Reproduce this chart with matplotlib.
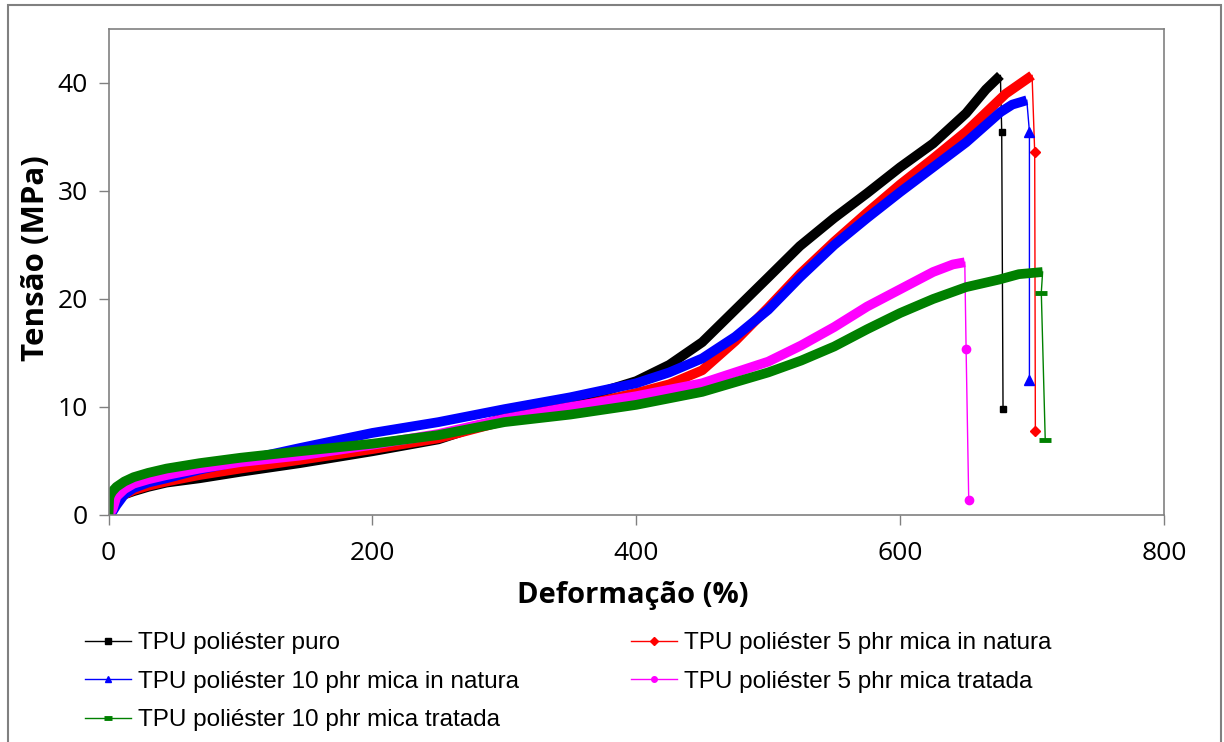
import matplotlib.pyplot as plt
from matplotlib.lines import Line2D
from matplotlib.patches import Rectangle

# Curvas tensão x deformação (os dois últimos pontos de cada série são a ruptura)
puro_x = [0, 3, 6, 12, 19, 30, 44, 69, 100, 145, 200, 250, 300, 350, 400, 425, 450,
          475, 500, 524, 550, 575, 600, 625, 650, 665, 676, 677, 678]
puro_y = [0, 0.8, 1.4, 1.9, 2.2, 2.6, 3.0, 3.4, 4.0, 4.8, 5.9, 7.0, 9.0, 10.5, 12.4,
          13.9, 16.0, 19.0, 22.0, 24.9, 27.5, 29.8, 32.2, 34.4, 37.2, 39.4, 40.7, 35.5, 9.8]

m5n_x = [0, 3, 6, 12, 19, 30, 44, 69, 100, 145, 200, 250, 300, 350, 400, 425, 450,
         475, 500, 524, 550, 575, 600, 625, 650, 680, 700, 702, 702.5]
m5n_y = [0, 0.7, 1.3, 1.9, 2.3, 2.7, 3.1, 3.7, 4.3, 5.1, 6.1, 7.1, 8.7, 9.9, 11.3,
         12.1, 13.4, 16.1, 19.2, 22.3, 25.3, 28.0, 30.6, 33.0, 35.5, 39.0, 40.7, 33.6, 7.8]

m10n_x = [0, 3, 6, 12, 19, 30, 44, 69, 100, 145, 200, 250, 300, 350, 400, 425, 450,
          475, 500, 524, 550, 575, 600, 625, 650, 676, 685, 696, 698, 698]
m10n_y = [0, 0.3, 0.9, 1.9, 2.5, 3.0, 3.4, 4.2, 5.0, 6.2, 7.6, 8.6, 9.8, 10.9, 12.2,
          13.2, 14.5, 16.5, 19.0, 22.0, 25.0, 27.5, 29.9, 32.2, 34.5, 37.3, 38.0, 38.4, 35.5, 12.5]

m5t_x = [0, 3, 6, 12, 19, 30, 44, 69, 100, 145, 200, 250, 300, 350, 400, 450, 500,
         525, 550, 575, 600, 625, 640, 649, 650, 652]
m5t_y = [0, 0.5, 1.7, 2.4, 2.9, 3.3, 3.7, 4.3, 4.9, 5.5, 6.5, 7.5, 8.9, 10.0, 11.0,
         12.2, 14.2, 15.7, 17.4, 19.3, 20.9, 22.5, 23.2, 23.4, 15.4, 1.4]

m10t_x = [0, 0.5, 1, 3, 6, 12, 19, 30, 44, 69, 100, 145, 200, 250, 300, 350, 400, 450,
          500, 525, 550, 575, 600, 625, 650, 675, 690, 708, 707, 710]
m10t_y = [0, 1.5, 1.8, 2.2, 2.6, 3.1, 3.5, 3.9, 4.3, 4.8, 5.3, 5.9, 6.6, 7.4, 8.6, 9.3,
          10.2, 11.4, 13.2, 14.3, 15.6, 17.2, 18.7, 20.0, 21.1, 21.8, 22.3, 22.5, 20.6, 6.9]

series = [
    ("TPU poliéster puro", puro_x, puro_y, "black", "s", 5),
    ("TPU poliéster 5 phr mica in natura", m5n_x, m5n_y, "red", "D", 5),
    ("TPU poliéster 10 phr mica in natura", m10n_x, m10n_y, "blue", "^", 7),
    ("TPU poliéster 5 phr mica tratada", m5t_x, m5t_y, "magenta", "o", 6),
    ("TPU poliéster 10 phr mica tratada", m10t_x, m10t_y, "green", "_", 9),
]

fig = plt.figure(figsize=(12.24, 7.42), dpi=100)
ax = fig.add_axes([108.5 / 1224, 1 - 515 / 742, 1055.5 / 1224, 486 / 742])

handles = {}
for name, xs, ys, color, mk, ms in series:
    # faixa grossa (marcadores densos no original)
    ax.plot(xs[:-2], ys[:-2], color=color, lw=7, solid_capstyle='butt',
            solid_joinstyle='round')
    # trecho de ruptura: linha fina com marcadores
    mew = 3.5 if mk == "_" else 1
    ax.plot(xs[-3:], ys[-3:], color=color, lw=1)
    ax.plot(xs[-2:], ys[-2:], ls='none', marker=mk, ms=ms, color=color, mew=mew)
    handles[name] = Line2D([], [], color=color, lw=1, marker=mk,
                           ms=4 if mk != "_" else 6, mew=mew if mk == "_" else 1)

ax.set_xlim(0, 800)
ax.set_ylim(0, 45)
ax.set_xticks([0, 200, 400, 600, 800])
ax.set_yticks([0, 10, 20, 30, 40])
for s in ax.spines.values():
    s.set_color('#808080')
    s.set_linewidth(1.2)
ax.tick_params(axis='both', colors='#808080', labelcolor='black', length=7,
               width=1, labelsize=19, pad=8)
ax.tick_params(axis='x', pad=12)
for lab in ax.get_xticklabels() + ax.get_yticklabels():
    lab.set_fontfamily('Open Sans')

fig.text(36 / 1224, 1 - 258 / 742, "Tensão (MPa)", rotation=90, ha='center',
         va='center', fontsize=22.5, fontweight='bold', family='Open Sans')
fig.text(633 / 1224, 1 - 595 / 742, "Deformação (%)", ha='center', va='center',
         fontsize=21, fontweight='bold', family='Open Sans')

col1 = ["TPU poliéster puro", "TPU poliéster 10 phr mica in natura",
        "TPU poliéster 10 phr mica tratada"]
col2 = ["TPU poliéster 5 phr mica in natura", "TPU poliéster 5 phr mica tratada"]
for names, x0 in [(col1, 85), (col2, 631)]:
    fig.legend([handles[n] for n in names], names, loc='upper left',
               bbox_to_anchor=(x0 / 1224, 1 - 632 / 742), frameon=False,
               prop={'family': 'Liberation Sans', 'size': 17.5},
               handlelength=1.9, handletextpad=0.3, labelspacing=0.68,
               borderpad=0, borderaxespad=0)

fig.patches.append(Rectangle((8 / 1224, -0.01), 1213 / 1224, 1 - 5 / 742 + 0.01,
                             transform=fig.transFigure, fill=False,
                             edgecolor='#808080', lw=1.5))

fig.savefig("out.png", dpi=100)
